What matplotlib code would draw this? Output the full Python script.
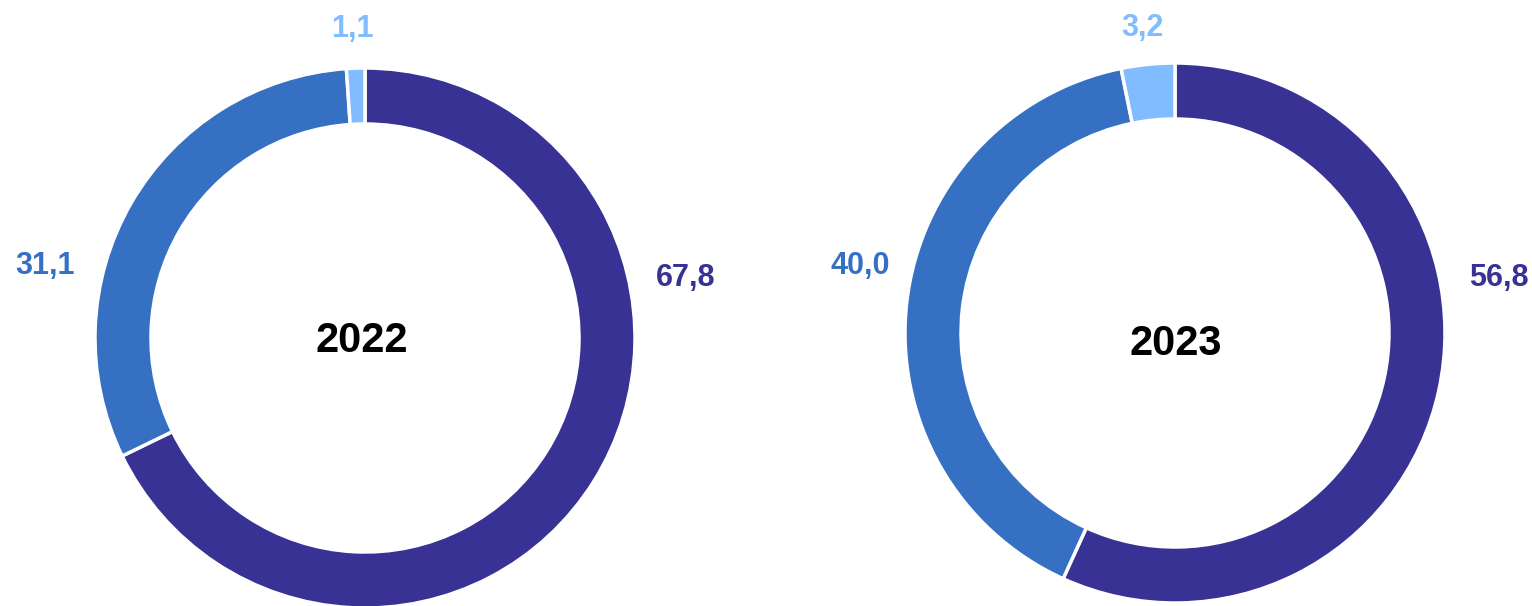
import matplotlib.pyplot as plt

plt.rcParams['font.family'] = ['Liberation Sans', 'DejaVu Sans']

# data
years = ["2022", "2023"]
shares_2022 = [67.8, 31.1, 1.1]
shares_2023 = [56.8, 40.0, 3.2]
labels_2022 = ["67,8", "31,1", "1,1"]
labels_2023 = ["56,8", "40,0", "3,2"]

colors = ["#373294", "#3570C2", "#80BCFF"]

W, H = 1532, 606
fig = plt.figure(figsize=(W / 100, H / 100), dpi=100)
ax = fig.add_axes([0, 0, 1, 1])

# donut geometry in pixel units (y measured from bottom)
centers = [(365, H - 338), (1175, H - 333)]
r_out, ring = 270, 56

# year text positions and label positions (pixel, from top)
year_pos = [(362, 341), (1176, 344)]
label_pos = [
    [(686, 278), (45, 266), (352, 29)],
    [(1499, 278), (860, 266), (1142, 28)],
]

for year, vals, labs, c, ypos, lpos in zip(years, [shares_2022, shares_2023],
                                           [labels_2022, labels_2023], centers,
                                           year_pos, label_pos):
    ax.pie(vals, colors=colors, startangle=90, counterclock=False,
           radius=r_out, center=c,
           wedgeprops=dict(width=ring, edgecolor="white", linewidth=2.5))
    ax.text(ypos[0], H - ypos[1], year, ha="center", va="center",
            fontsize=30, fontweight="bold", color="black")
    for lab, col, (x, y) in zip(labs, colors, lpos):
        ax.text(x, H - y, lab, ha="center", va="center",
                fontsize=22, fontweight="bold", color=col)

ax.set_xlim(0, W)
ax.set_ylim(0, H)
ax.set_aspect("equal")
ax.axis("off")

fig.savefig("out.png", dpi=100, facecolor="white")
